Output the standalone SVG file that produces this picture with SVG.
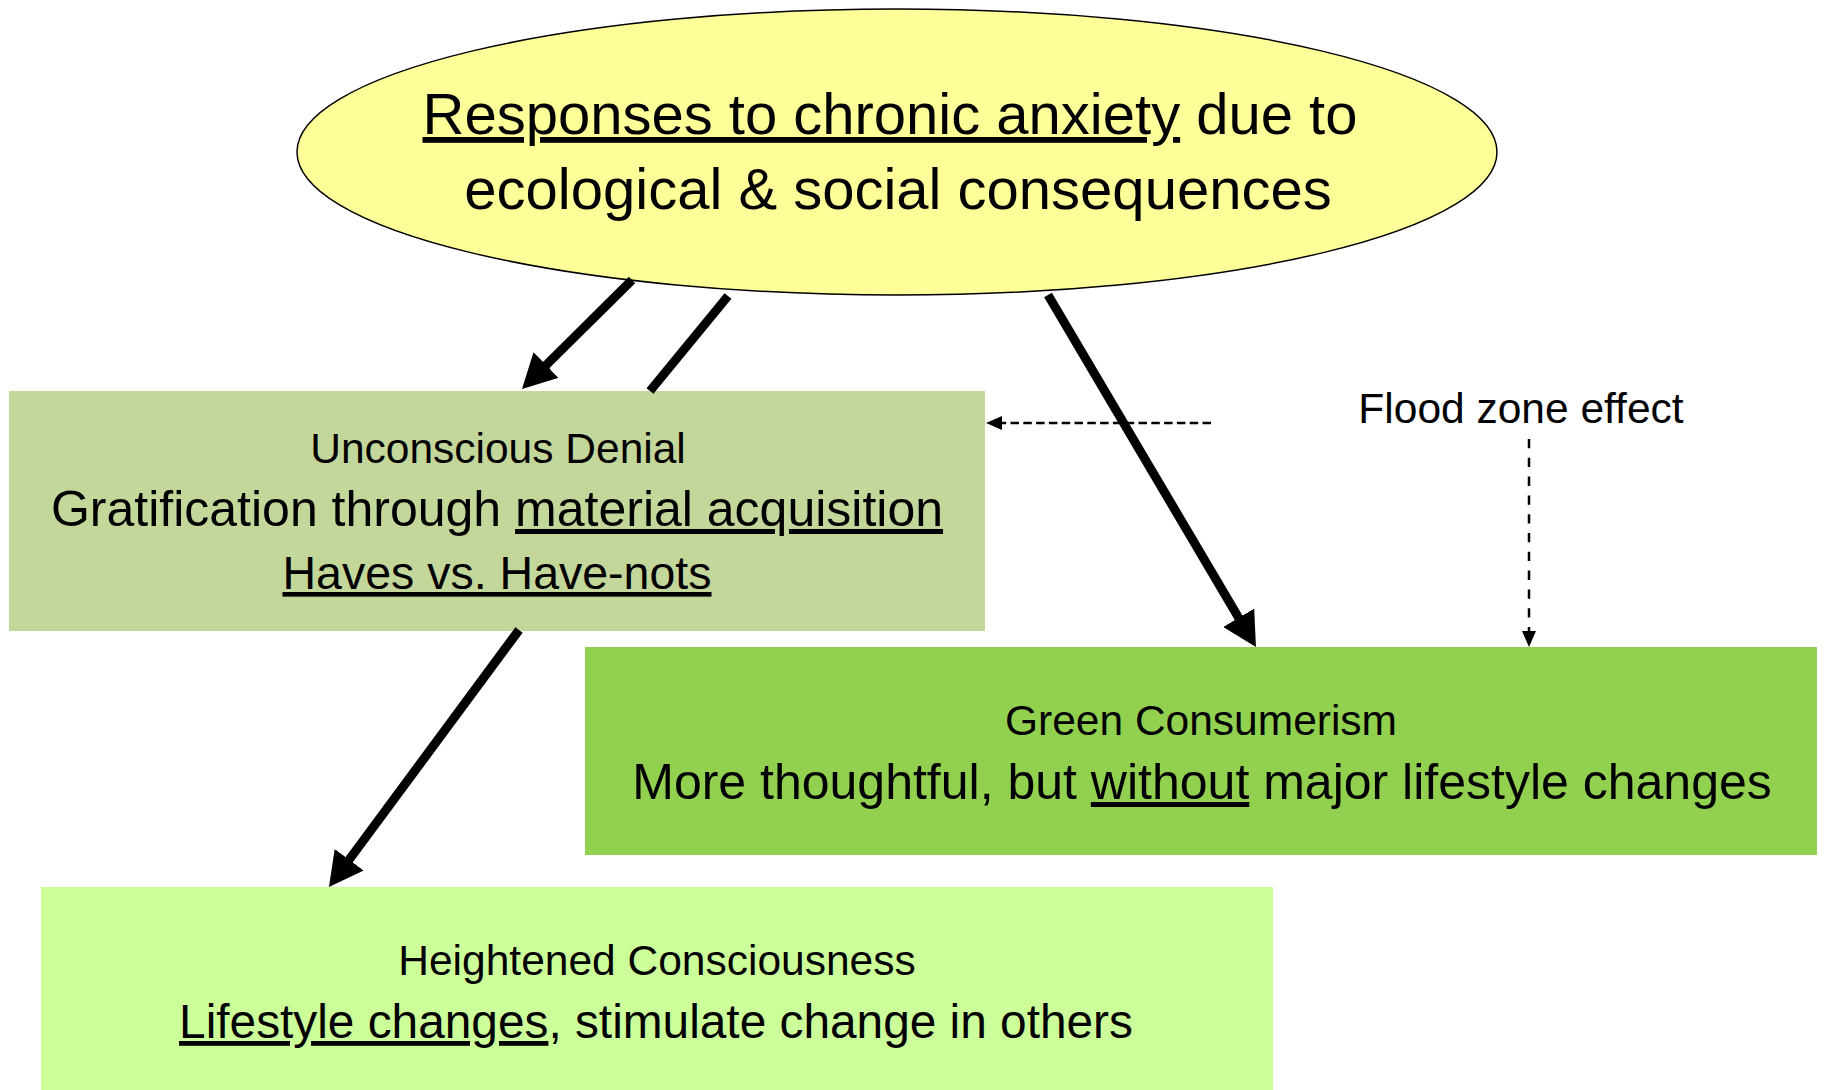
<svg xmlns="http://www.w3.org/2000/svg" width="1824" height="1090" viewBox="0 0 1824 1090">
<style>
.t{font-family:"Liberation Sans",Arial,sans-serif;fill:#000;text-anchor:middle}
.big{font-size:50px}
.mid{font-size:42.5px}
.u{text-decoration:underline}
.thick{stroke:#000;stroke-width:9;fill:none}
.dash{stroke:#000;stroke-width:2.5;fill:none}
</style>
<defs>
<marker id="ah" markerUnits="userSpaceOnUse" markerWidth="34" markerHeight="36" refX="4" refY="18" orient="auto"><path d="M0,0 L34,18 L0,36 z" fill="#000"/></marker>
<marker id="sh" markerUnits="userSpaceOnUse" markerWidth="16" markerHeight="14" refX="0" refY="7" orient="auto"><path d="M0,0 L16,7 L0,14 z" fill="#000"/></marker>
</defs>
<rect width="1824" height="1090" fill="#fff"/>
<g id="node-anxiety">
<ellipse cx="897" cy="152" rx="600" ry="143" fill="#FFFF99" stroke="#000" stroke-width="1.5"/>
<text class="t" x="890" y="134" font-size="58"><tspan class="u">Responses to chronic anxiety</tspan> due to</text>
<text class="t" x="898" y="209" font-size="58">ecological &amp; social consequences</text>
</g>
<g id="node-denial">
<rect x="9" y="391" width="976" height="240" fill="#C4D79B"/>
<text class="t mid" x="498" y="463">Unconscious Denial</text>
<text class="t big" x="497" y="526">Gratification through <tspan class="u">material acquisition</tspan></text>
<text class="t u" x="497" y="589" font-size="46.5">Haves vs. Have-nots</text>
</g>
<g id="node-green">
<rect x="585" y="647" width="1232" height="208" fill="#92D050"/>
<text class="t mid" x="1201" y="735">Green Consumerism</text>
<text class="t big" x="1202" y="799">More thoughtful, but <tspan class="u">without</tspan> major lifestyle changes</text>
</g>
<g id="node-heightened">
<rect x="41" y="887" width="1232" height="203" fill="#CCFF99"/>
<text class="t mid" x="657" y="975">Heightened Consciousness</text>
<text class="t" x="656" y="1038" font-size="47.8"><tspan class="u">Lifestyle changes</tspan>, stimulate change in others</text>
</g>
<g id="label-flood">
<text class="t mid" x="1521" y="423">Flood zone effect</text>
</g>
<g id="connectors">
<line class="thick" x1="632" y1="280" x2="543.3" y2="367.9" marker-end="url(#ah)"/>
<line class="thick" x1="728" y1="296" x2="650" y2="391"/>
<line class="thick" x1="1048" y1="295" x2="1240.7" y2="621.2" marker-end="url(#ah)"/>
<line class="thick" x1="519" y1="630" x2="346.8" y2="862.9" marker-end="url(#ah)"/>
<line class="dash" x1="1211" y1="423" x2="1002" y2="423" stroke-dasharray="8.5 4.3" marker-end="url(#sh)"/>
<line class="dash" x1="1529" y1="439" x2="1529" y2="631" stroke-width="2" stroke-dasharray="9.3 9.5" marker-end="url(#sh)"/>
</g>
</svg>
